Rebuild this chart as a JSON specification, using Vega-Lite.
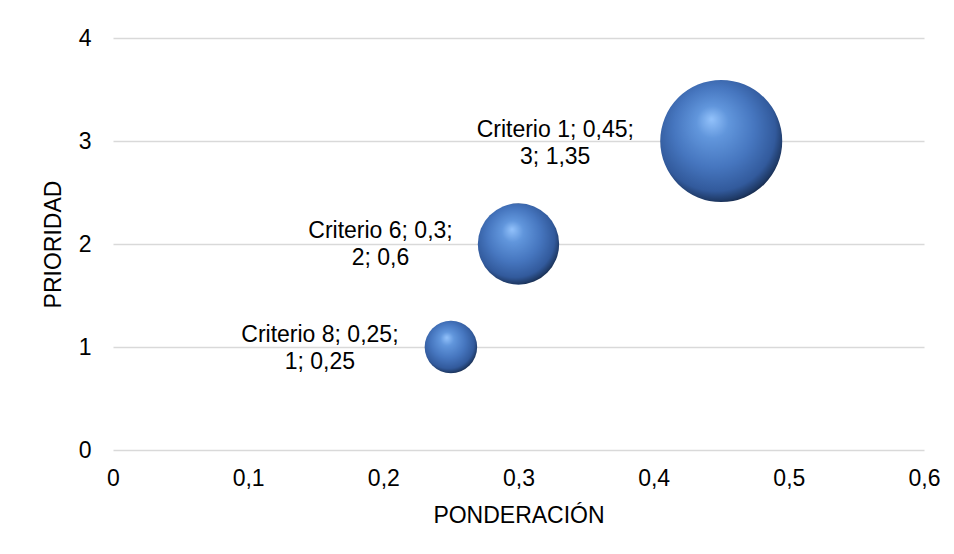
{
  "$schema": "https://vega.github.io/schema/vega-lite/v6.json",
  "autosize": "none",
  "width": 811,
  "height": 412,
  "padding": {"left": 113, "top": 38, "right": 30, "bottom": 104},
  "background": "white",
  "config": {
    "locale": {"number": {"decimal": ",", "thousands": ".", "grouping": [3], "currency": ["", " €"]}},
    "view": {"stroke": null},
    "font": "Liberation Sans",
    "axis": {
      "labelFont": "Liberation Sans",
      "titleFont": "Liberation Sans",
      "labelFontSize": 23,
      "titleFontSize": 23,
      "labelColor": "#000000",
      "titleColor": "#000000",
      "titleFontWeight": "normal",
      "gridColor": "#d9d9d9",
      "gridWidth": 1.3,
      "domain": false,
      "ticks": false,
      "tickSize": 0
    }
  },
  "data": {
    "values": [
      {"criterio": "Criterio 1", "ponderacion": 0.45, "prioridad": 3, "valor": 1.35, "label": "Criterio 1; 0,45;\n3; 1,35"},
      {"criterio": "Criterio 6", "ponderacion": 0.3, "prioridad": 2, "valor": 0.6, "label": "Criterio 6; 0,3;\n2; 0,6"},
      {"criterio": "Criterio 8", "ponderacion": 0.25, "prioridad": 1, "valor": 0.25, "label": "Criterio 8; 0,25;\n1; 0,25"}
    ]
  },
  "encoding": {
    "x": {
      "field": "ponderacion", "type": "quantitative",
      "scale": {"domain": [0, 0.6], "nice": false, "zero": true},
      "axis": {"title": "PONDERACIÓN", "grid": false, "values": [0, 0.1, 0.2, 0.3, 0.4, 0.5, 0.6], "format": ",.1~f", "labelPadding": 17, "titlePadding": 14, "labelFlush": false}
    },
    "y": {
      "field": "prioridad", "type": "quantitative",
      "scale": {"domain": [0, 4], "nice": false},
      "axis": {"title": "PRIORIDAD", "grid": true, "values": [0, 1, 2, 3, 4], "labelPadding": 22, "titlePadding": 13}
    }
  },
  "layer": [
    {
      "mark": {
        "type": "point",
        "shape": "circle",
        "filled": true,
        "opacity": 1,
        "fill": {
          "gradient": "radial",
          "x1": 0.42, "y1": 0.32, "r1": 0,
          "x2": 0.46, "y2": 0.44, "r2": 0.6,
          "stops": [
            {"offset": 0, "color": "#93c2fb"},
            {"offset": 0.22, "color": "#6196dc"},
            {"offset": 0.55, "color": "#4676bf"},
            {"offset": 0.82, "color": "#325a9c"},
            {"offset": 0.93, "color": "#1f3a66"},
            {"offset": 1, "color": "#0e1a30"}
          ]
        }
      },
      "encoding": {
        "size": {"field": "valor", "type": "quantitative", "scale": {"domain": [0, 1.35], "range": [0, 14884], "zero": true}, "legend": null}
      }
    },
    {
      "transform": [{"filter": "datum.criterio == 'Criterio 1'"}],
      "mark": {"type": "text", "align": "center", "baseline": "alphabetic", "lineBreak": "\n", "lineHeight": 27, "fontSize": 23, "font": "Liberation Sans", "color": "#000000", "dx": -166, "dy": -4},
      "encoding": {"text": {"field": "label"}}
    },
    {
      "transform": [{"filter": "datum.criterio == 'Criterio 6'"}],
      "mark": {"type": "text", "align": "center", "baseline": "alphabetic", "lineBreak": "\n", "lineHeight": 27, "fontSize": 23, "font": "Liberation Sans", "color": "#000000", "dx": -138, "dy": -6},
      "encoding": {"text": {"field": "label"}}
    },
    {
      "transform": [{"filter": "datum.criterio == 'Criterio 8'"}],
      "mark": {"type": "text", "align": "center", "baseline": "alphabetic", "lineBreak": "\n", "lineHeight": 27, "fontSize": 23, "font": "Liberation Sans", "color": "#000000", "dx": -131, "dy": -5},
      "encoding": {"text": {"field": "label"}}
    }
  ]
}
